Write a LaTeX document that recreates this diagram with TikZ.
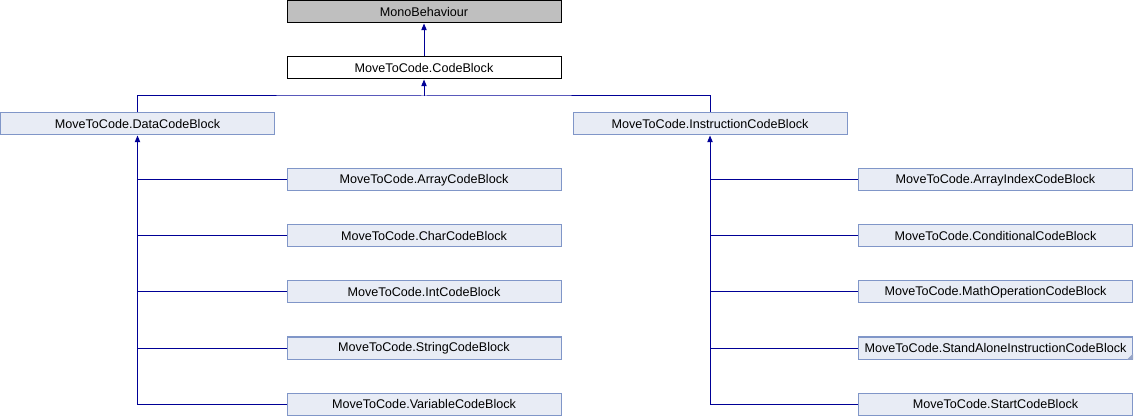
\documentclass[tikz,border=0pt]{standalone}
\usepackage{fontspec}
\setmainfont{Liberation Sans}
\usetikzlibrary{arrows.meta,calc}
\definecolor{edgecol}{RGB}{0,0,150}
\definecolor{boxfill}{RGB}{232,236,245}
\definecolor{boxline}{RGB}{128,150,200}
\definecolor{monofill}{RGB}{191,191,191}
\definecolor{cornercol}{RGB}{150,165,200}
\tikzset{
  cls/.style={draw=boxline, fill=boxfill, line width=0.75pt, minimum width=205.5pt, minimum height=16.5pt, inner sep=0pt, font=\fontsize{9.45}{11}\selectfont},
  topcls/.style={cls, draw=black, fill=white},
  monocls/.style={cls, draw=black, fill=monofill},
  edge/.style={draw=edgecol, line width=0.75pt},
  inh/.style={edge, -{Triangle[length=5pt,width=4pt]}}
}
\begin{document}
\begin{tikzpicture}[x=0.75pt,y=-0.75pt]
\useasboundingbox (0,0) rectangle (1134,416);
\node[monocls] (mono) at (424,12) {MonoBehaviour};
\node[topcls] (cb) at (424,68) {MoveToCode.CodeBlock};
\node[cls] (data) at (137.5,124) {MoveToCode.DataCodeBlock};
\node[cls] (instr) at (710,124) {MoveToCode.InstructionCodeBlock};
\node[cls] (arr) at (424,180) {MoveToCode.ArrayCodeBlock};
\node[cls] (chr) at (424,236) {MoveToCode.CharCodeBlock};
\node[cls] (int) at (424,292) {MoveToCode.IntCodeBlock};
\node[cls] (str) at (424,348) {MoveToCode.StringCodeBlock};
\node[cls] (var) at (424,404) {MoveToCode.VariableCodeBlock};
\node[cls] (aidx) at (995.5,180) {MoveToCode.ArrayIndexCodeBlock};
\node[cls] (cond) at (995.5,236) {MoveToCode.ConditionalCodeBlock};
\node[cls] (math) at (995.5,292) {MoveToCode.MathOperationCodeBlock};
\node[cls] (sa) at (995.5,348) {MoveToCode.StandAloneInstructionCodeBlock};
\node[cls] (start) at (995.5,404) {MoveToCode.StartCodeBlock};
\fill[cornercol] (sa.south east) -- ++(-6,0) -- ++(6,-6) -- cycle;
% edges
\draw[inh] (cb.north) -- (mono.south);
\coordinate (bus) at (424,96);
\draw[edge] (data.north) |- (bus) -| (instr.north);
\draw[inh] (bus) -- (cb.south);
\draw[inh] (var.west) -| (data.south);
\foreach \n in {arr,chr,int,str} \draw[edge] (\n.west) -- (\n.west -| data.south);
\draw[inh] (start.west) -| (instr.south);
\foreach \n in {aidx,cond,math,sa} \draw[edge] (\n.west) -- (\n.west -| instr.south);
\end{tikzpicture}
\end{document}
